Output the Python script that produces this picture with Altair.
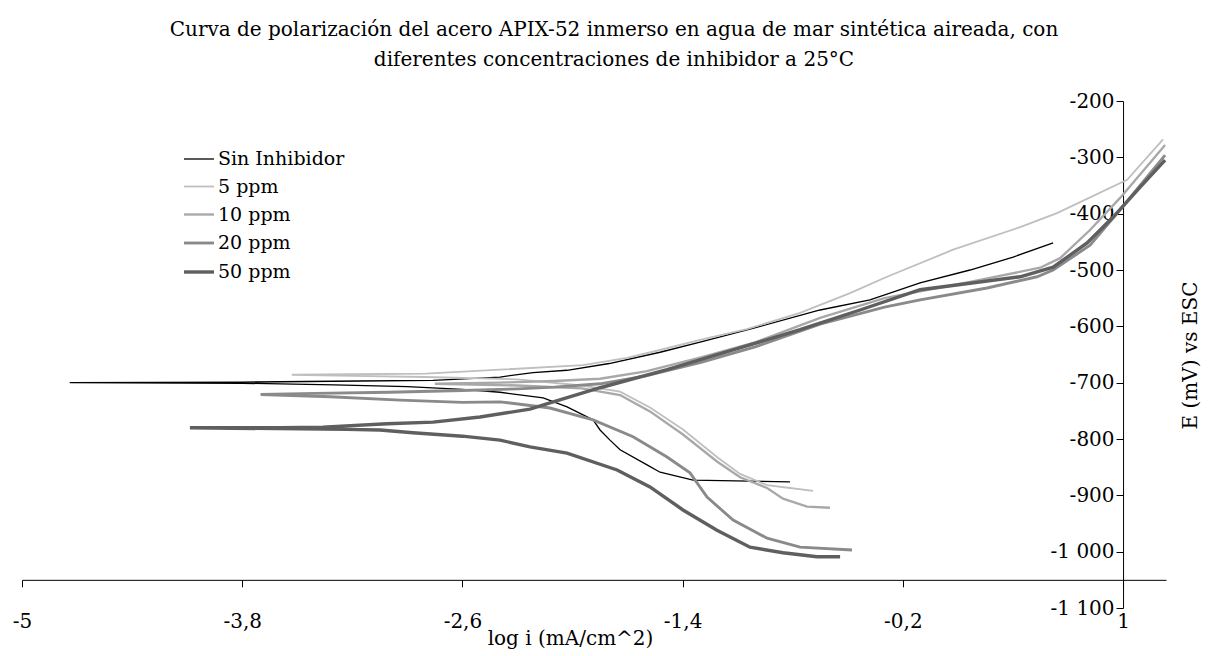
import altair as alt
import pandas as pd

# Curvas de polarización: log i (mA/cm^2) frente a E (mV vs ESC),
# cada serie recorrida desde el extremo catódico hasta el anódico.
series = ["Sin Inhibidor", "5 ppm", "10 ppm", "20 ppm", "50 ppm"]
colores = ["#000000", "#bfbfbf", "#a8a8a8", "#8a8a8a", "#5f5f5f"]
grosores = [1.3, 3.4, 4.0, 3.6, 4.2]

sin_logi = [-0.815, -1.343, -1.523, -1.594, -1.741, -1.796, -1.85, -1.888, -2.03, -2.16,
            -2.395, -2.6, -2.9, -3.3, -3.8, -4.74, -3.8, -3.16, -2.76, -2.395, -2.215,
            -2.03, -1.8, -1.523, -1.305, -1.033, -0.651, -0.379, -0.106, 0.166, 0.401, 0.619]
sin_e = [-876, -873, -859, -846, -819, -802, -784, -766, -743, -727,
         -717, -712, -707, -704, -701, -700, -699, -697, -696, -690, -682,
         -678, -666, -646, -628, -605, -571, -553, -523, -500, -477, -452]

p5_logi = [-0.689, -0.815, -0.94, -1.087, -1.213, -1.398, -1.578, -1.741, -1.95, -2.3,
           -2.8, -3.2, -3.53, -3.2, -2.8, -2.395, -1.943, -1.703, -1.523, -1.305,
           -1.05, -0.76, -0.488, -0.286, 0.074, 0.439, 0.64, 1.022, 1.218]
p5_e = [-892, -887, -882, -862, -832, -783, -744, -716, -705, -694,
        -690, -688, -686, -685, -684, -677, -669, -656, -642, -624,
        -605, -576, -541, -512, -464, -424, -399, -340, -268]

p10_logi = [-0.597, -0.722, -0.853, -0.94, -1.087, -1.213, -1.398, -1.578, -1.741, -1.95,
            -2.3, -2.75, -2.4, -2.1, -1.85, -1.6, -1.3, -1.0, -0.651, -0.3,
            0.166, 0.548, 0.657, 0.82, 0.984, 1.229]
p10_e = [-922, -920, -906, -887, -868, -840, -792, -751, -722, -710,
         -705, -702, -700, -697, -693, -680, -655, -628, -585, -550,
         -521, -496, -479, -429, -372, -278]

p20_logi = [-0.477, -0.76, -0.94, -1.125, -1.267, -1.36, -1.485, -1.67, -1.888, -2.123,
            -2.395, -2.6, -2.94, -3.32, -3.70, -3.4, -3.0, -2.6, -2.3, -2.1,
            -1.85, -1.6, -1.3, -1.0, -0.651, -0.3, -0.106, 0.259, 0.531, 0.619,
            0.82, 0.984, 1.229]
p20_e = [-997, -992, -976, -944, -903, -860, -832, -796, -766, -745,
         -734, -735, -731, -725, -721, -719, -717, -714, -711, -708,
         -702, -688, -664, -636, -596, -566, -553, -532, -512, -500,
         -456, -393, -296]

p50_logi = [-0.542, -0.668, -0.853, -1.033, -1.213, -1.398, -1.578, -1.757, -2.03, -2.232,
            -2.395, -2.6, -2.87, -3.05, -3.23, -4.085, -3.594, -3.36, -3.01, -2.76,
            -2.504, -2.232, -2.123, -1.85, -1.485, -1.125, -0.76, -0.433, -0.106, 0.439,
            0.619, 0.804, 0.946, 1.093, 1.229]
p50_e = [-1009, -1009, -1002, -992, -962, -926, -885, -855, -825, -814,
         -802, -795, -789, -784, -783, -780, -780, -779, -773, -770,
         -761, -747, -736, -709, -677, -642, -606, -571, -535, -512,
         -495, -452, -406, -353, -305]

x_ticks = [-5, -3.8, -2.6, -1.4, -0.2, 1]
y_ticks = [-200, -300, -400, -500, -600, -700, -800, -900, -1000, -1100]

filas = []
for nombre, xs, ys in zip(series,
                          [sin_logi, p5_logi, p10_logi, p20_logi, p50_logi],
                          [sin_e, p5_e, p10_e, p20_e, p50_e]):
    for i, (xv, yv) in enumerate(zip(xs, ys)):
        filas.append({"serie": nombre, "orden": i, "logi": xv, "E": yv})
df = pd.DataFrame(filas)

FUENTE = "DejaVu Serif"
W, H = 1144, 507
X_MIN, X_MAX = -5, 1.234
# el eje vertical cruza en log i = 1 y el horizontal en E = -1050
y_axis_offset = -W * (1 - X_MIN) / (X_MAX - X_MIN)
x_axis_offset = -H * (-1050 - (-1100)) / 900

leyenda = alt.Legend(
    title=None, orient="none", legendX=160, legendY=42,
    symbolType="stroke", symbolSize=900, labelFont=FUENTE, labelFontSize=19,
    labelColor="black", rowPadding=1.5, padding=0, labelOffset=2,
)

lineas = alt.Chart(df).mark_line(strokeCap="butt").encode(
    x=alt.X("logi:Q",
            scale=alt.Scale(domain=[X_MIN, X_MAX], nice=False, zero=False),
            axis=alt.Axis(values=x_ticks, grid=False, offset=x_axis_offset,
                          labelExpr="replace(toString(round(datum.value*10)/10), '.', ',')",
                          labelFont=FUENTE, labelFontSize=20, labelColor="black",
                          labelPadding=25, tickSize=7, tickColor="black", domainColor="black",
                          title="log i (mA/cm^2)", titleFont=FUENTE, titleFontSize=20,
                          titleFontWeight="normal", titleColor="black",
                          titleX=548, titleY=49, labelFlush=False)),
    y=alt.Y("E:Q",
            scale=alt.Scale(domain=[-1100, -200], nice=False, zero=False),
            axis=alt.Axis(values=y_ticks, grid=False, orient="left", offset=y_axis_offset,
                          labelExpr="datum.value <= -1000 ? '-1 ' + substring(toString(datum.value), 2) : toString(datum.value)",
                          labelFont=FUENTE, labelFontSize=20, labelColor="black",
                          tickSize=7, tickColor="black", domainColor="black",
                          title="E (mV) vs ESC", titleFont=FUENTE, titleFontSize=20,
                          titleFontWeight="normal", titleColor="black", titleAngle=270,
                          titleX=67, titleY=254, titleAlign="center", titleBaseline="middle",
                          labelFlush=False)),
    color=alt.Color("serie:N", scale=alt.Scale(domain=series, range=colores), legend=leyenda),
    strokeWidth=alt.StrokeWidth("serie:N", scale=alt.Scale(domain=series, range=grosores), legend=leyenda),
    order="orden:Q",
)

chart = lineas.properties(
    width=W, height=H,
    title=alt.TitleParams(
        text=["Curva de polarización del acero APIX-52 inmerso en agua de mar sintética aireada, con",
              "diferentes concentraciones de inhibidor a 25°C"],
        font=FUENTE, fontSize=20, fontWeight="normal", color="black",
        anchor="middle", dx=20, offset=21, lineHeight=30),
    autosize=alt.AutoSizeParams(type="none"),
    padding={"left": 22, "top": 101, "right": 43, "bottom": 48},
    background="white",
).configure_view(stroke=None)

chart.save("out.html", embed_options={"renderer": "svg", "actions": False})
